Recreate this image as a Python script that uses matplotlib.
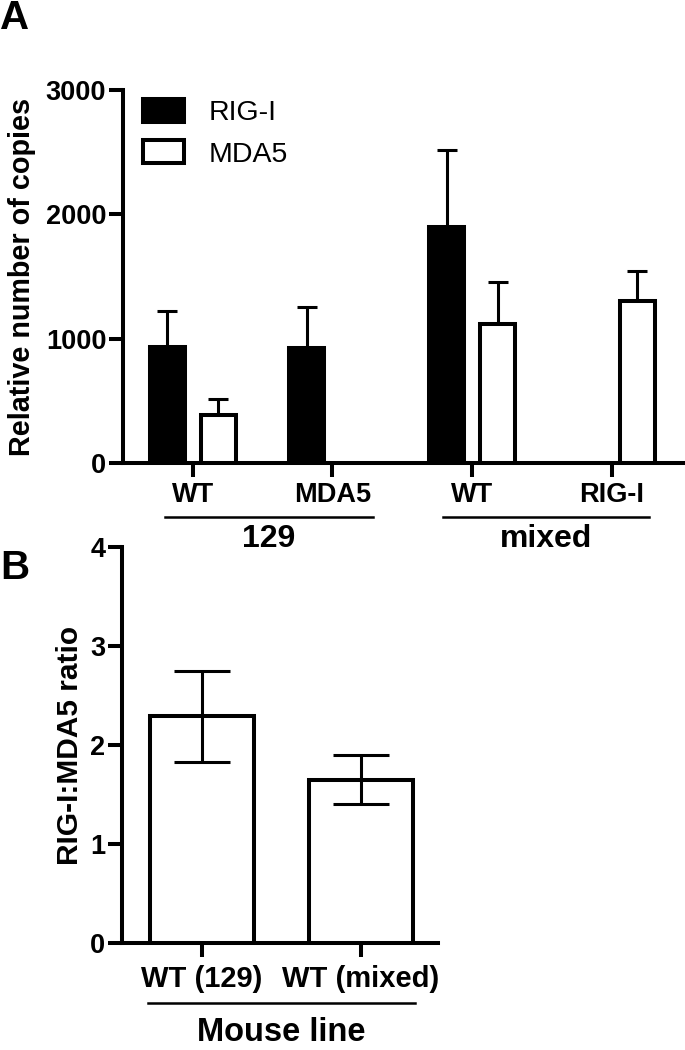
import numpy as np
import matplotlib
matplotlib.use("Agg")
import matplotlib.pyplot as plt
from matplotlib.patches import Patch

plt.rcParams["font.family"] = ["Liberation Sans", "DejaVu Sans"]

# ---------------- data ----------------
groups_a = ["WT", "MDA5", "WT", "RIG-I"]
strains = ["129", "mixed"]
rig_i_mean = [930, 922, 1897, np.nan]
rig_i_err = [291, 334, 619, np.nan]
mda5_mean = [387, np.nan, 1114, 1304]
mda5_err = [129, np.nan, 342, 243]

lines_b = ["WT (129)", "WT (mixed)"]
ratio_mean = [2.29, 1.65]
ratio_err = [0.46, 0.25]

LW = 2.9

def style_axes(ax, xsize, ysize):
    for side in ["top", "right"]:
        ax.spines[side].set_visible(False)
    for side in ["left", "bottom"]:
        ax.spines[side].set_linewidth(LW)
    ax.tick_params(width=LW, length=10)
    ax.tick_params(axis="y", labelsize=ysize, pad=2)
    ax.tick_params(axis="x", labelsize=xsize, pad=4)
    for lab in ax.get_xticklabels() + ax.get_yticklabels():
        lab.set_fontweight("bold")

fig = plt.figure(figsize=(6.85, 10.5), dpi=100)

# ---------------- panel A ----------------
ax = fig.add_axes([123 / 685, 1 - 463 / 1050, 560 / 685, 373 / 1050])
x = np.arange(len(groups_a))
w = 0.25
off = 0.183
r = np.array(rig_i_mean, dtype=float)
re = np.array(rig_i_err, dtype=float)
m = np.array(mda5_mean, dtype=float)
me = np.array(mda5_err, dtype=float)
ok = ~np.isnan(r)
ax.bar(x[ok] - off, r[ok], w, color="black", edgecolor="black", linewidth=LW, zorder=3)
ax.errorbar(x[ok] - off, r[ok], yerr=[np.zeros(ok.sum()), re[ok]], fmt="none",
            ecolor="black", elinewidth=2.2, capsize=7.2, capthick=2.2, zorder=2)
ok = ~np.isnan(m)
ax.bar(x[ok] + off, m[ok], w, color="white", edgecolor="black", linewidth=LW, zorder=3)
ax.errorbar(x[ok] + off, m[ok], yerr=[np.zeros(ok.sum()), me[ok]], fmt="none",
            ecolor="black", elinewidth=2.2, capsize=7.2, capthick=2.2, zorder=2)
ax.set_xlim(-0.5, 3.51)
ax.set_ylim(0, 3000)
ax.set_yticks([0, 1000, 2000, 3000])
ax.set_xticks(x)
ax.set_xticklabels(groups_a)
ax.set_ylabel("Relative number of copies", fontsize=20.7, fontweight="bold")
ax.yaxis.set_label_coords(-0.155, 0.5)
style_axes(ax, 19.5, 19.5)

handles = [Patch(facecolor="black", edgecolor="black", linewidth=LW, label="RIG-I"),
           Patch(facecolor="white", edgecolor="black", linewidth=LW, label="MDA5")]
ax.legend(handles=handles, loc="upper left", bbox_to_anchor=(0.036, 0.976), frameon=False,
          fontsize=20.5, handlelength=1.45, handleheight=0.85, handletextpad=0.85,
          labelspacing=0.5, borderpad=0, borderaxespad=0)

trans = ax.get_xaxis_transform()
for (x0, x1), name in zip([(-0.2, 1.29), (1.79, 3.27)], strains):
    ax.plot([x0, x1], [-0.145, -0.145], color="black", lw=1.8, transform=trans, clip_on=False)
    ax.text((x0 + x1) / 2, -0.203, name, transform=trans, ha="center", va="center",
            fontsize=23, fontweight="bold")

# ---------------- panel B ----------------
bx = fig.add_axes([122 / 685, 1 - 943 / 1050, 316 / 685, 396 / 1050])
xb = np.arange(len(lines_b))
bx.bar(xb, ratio_mean, 0.654, color="white", edgecolor="black", linewidth=LW, zorder=3)
bx.errorbar(xb, ratio_mean, yerr=ratio_err, fmt="none", ecolor="black",
            elinewidth=2.2, capsize=20, capthick=2.2, zorder=4)
bx.set_xlim(-0.503, 1.484)
bx.set_ylim(0, 4)
bx.set_yticks([0, 1, 2, 3, 4])
bx.set_xticks(xb)
bx.set_xticklabels(lines_b)
bx.set_ylabel("RIG-I:MDA5 ratio", fontsize=21.5, fontweight="bold")
bx.yaxis.set_label_coords(-0.12, 0.5)
style_axes(bx, 21, 19.5)
bx.tick_params(axis="x", pad=6)
tb = bx.get_xaxis_transform()
bx.plot([-0.34, 1.34], [-0.152, -0.152], color="black", lw=1.8, transform=tb, clip_on=False)
bx.text(0.5, -0.226, "Mouse line", transform=tb, ha="center", va="center",
        fontsize=23.5, fontweight="bold")

# panel letters
fig.text(0.0, 1 - 18 / 1050, "A", fontsize=29, fontweight="bold", va="center", ha="left")
fig.text(0.0, 1 - 568 / 1050, "B", fontsize=29, fontweight="bold", va="center", ha="left")

fig.savefig("out.png", dpi=100)
